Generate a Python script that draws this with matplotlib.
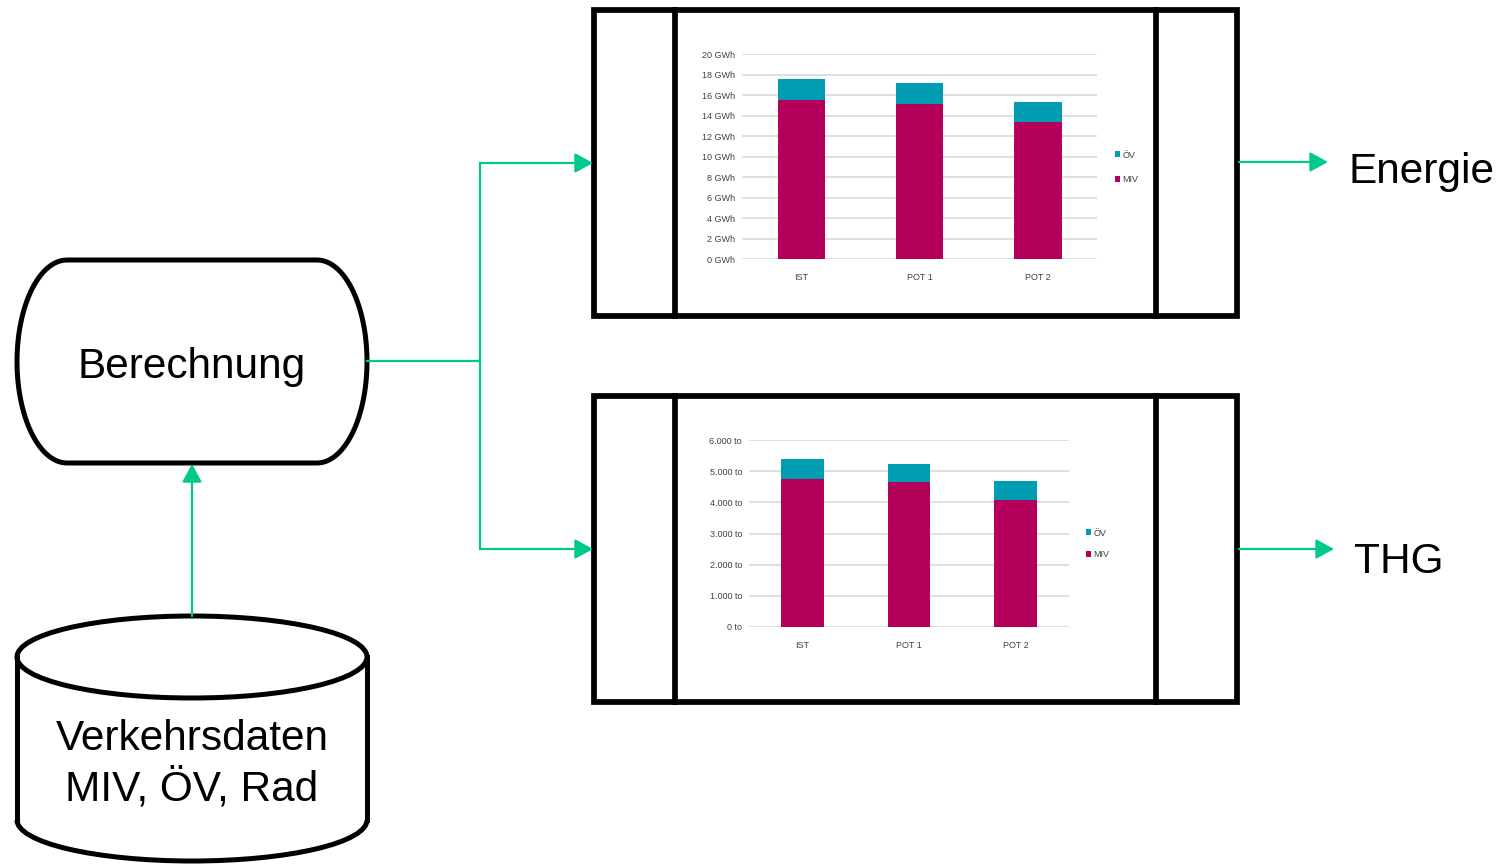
import numpy as np
import matplotlib
matplotlib.use("Agg")
import matplotlib.pyplot as plt
from matplotlib.patches import Ellipse, Arc, PathPatch, Rectangle
from matplotlib.path import Path
from matplotlib import font_manager

# ---------------------------------------------------------
# Daten
# ---------------------------------------------------------
szenarien = ["IST", "POT 1", "POT 2"]

energie_miv = [15.5, 15.1, 13.4]   # GWh
energie_oev = [2.1, 2.05, 1.95]    # GWh
energie_ticks = [0, 2, 4, 6, 8, 10, 12, 14, 16, 18, 20]

thg_miv = [4760, 4640, 4080]       # t
thg_oev = [630, 600, 620]          # t
thg_ticks = [0, 1000, 2000, 3000, 4000, 5000, 6000]

GRUEN = "#00C98D"
MIV_FARBE = "#B5005B"
OEV_FARBE = "#009DB2"
GRID = "#D9D9D9"
LABEL = "#404040"

W, H = 1503, 864
plt.rcParams["font.family"] = ["Liberation Sans", "DejaVu Sans"]

# schmale Schrift für die kleinen Diagrammbeschriftungen, falls vorhanden
vorhanden = {f.name for f in font_manager.fontManager.ttflist}
KLEIN = [n for n in ("Liberation Sans Narrow", "DejaVu Sans Condensed")
         if n in vorhanden] or ["Liberation Sans"]
KLEIN_GR = 7 if KLEIN[0] != "Liberation Sans" else 6.5

fig = plt.figure(figsize=(W / 100, H / 100), dpi=100)

# Zeichenfläche in Pixelkoordinaten (y nach unten)
ax = fig.add_axes([0, 0, 1, 1])
ax.set_xlim(0, W)
ax.set_ylim(H, 0)
ax.axis("off")

LW = 3.6
FS = 30.5


def pfeil(x0, y0, x1, y1):
    ax.annotate("", xy=(x1, y1), xytext=(x0, y0),
                arrowprops=dict(arrowstyle="-|>,head_length=1.1,head_width=0.6",
                                color=GRUEN, lw=1.6, shrinkA=0, shrinkB=0))


# --- Berechnung (abgerundete Form) ---
x0, x1, y0, y1 = 17, 367, 260, 463
rx, ry = 50, (y1 - y0) / 2
t = np.linspace(0, np.pi / 2, 30)
pts = []
pts += [(x0 + rx, y0), (x1 - rx, y0)]
cy = y0 + ry
pts += [(x1 - rx + rx * np.sin(a), cy - ry * np.cos(a)) for a in t]
pts += [(x1 - rx + rx * np.cos(a), cy + ry * np.sin(a)) for a in t]
pts += [(x0 + rx, y1)]
pts += [(x0 + rx - rx * np.sin(a), cy + ry * np.cos(a)) for a in t]
pts += [(x0 + rx - rx * np.cos(a), cy - ry * np.sin(a)) for a in t]
pts.append(pts[0])
ax.add_patch(PathPatch(Path(pts), facecolor="white", edgecolor="black",
                       lw=LW, joinstyle="round"))
ax.text(192, 378, "Berechnung", ha="center", va="baseline", fontsize=FS)

# --- Datenbank-Zylinder ---
cx, rxz = 192, 175
ytop, ybot, ryz = 657, 820, 41
ax.add_patch(Ellipse((cx, ytop), 2 * rxz, 2 * ryz, facecolor="white",
                     edgecolor="black", lw=LW))
ax.plot([cx - rxz, cx - rxz], [ytop, ybot], color="black", lw=LW)
ax.plot([cx + rxz, cx + rxz], [ytop, ybot], color="black", lw=LW)
ax.add_patch(Arc((cx, ybot), 2 * rxz, 2 * ryz, theta1=0, theta2=180,
                 edgecolor="black", lw=LW))
ax.text(cx, 750, "Verkehrsdaten", ha="center", va="baseline", fontsize=FS)
ax.text(cx, 800, "MIV, ÖV, Rad", ha="center", va="baseline", fontsize=FS)

# --- Verbindungen ---
pfeil(192, ytop - ryz, 192, y1 + 1)
ax.plot([x1, 480, 480], [361, 361, 163], color=GRUEN, lw=1.6)
ax.plot([480, 480], [361, 549], color=GRUEN, lw=1.6)
pfeil(480, 163, 593, 163)
pfeil(480, 549, 593, 549)

# --- Rahmen der beiden Diagramme ---
for top, bottom in [(10, 316), (396, 702)]:
    ax.add_patch(Rectangle((594, top), 1237 - 594, bottom - top, fill=False,
                           edgecolor="black", lw=LW * 1.15, joinstyle="miter"))
    for xv in (674.5, 1156):
        ax.plot([xv, xv], [top, bottom], color="black", lw=LW * 1.15)

# --- Ausgänge ---
pfeil(1239, 162, 1328, 162)
ax.text(1348, 183, "Energie", ha="left", va="baseline", fontsize=FS)
pfeil(1239, 549, 1334, 549)
ax.text(1354, 573, "THG", ha="left", va="baseline", fontsize=FS)


# ---------------------------------------------------------
# Gestapelte Balkendiagramme
# ---------------------------------------------------------
def balken(px0, px1, py_top, py_bot, miv, oev, ticks, fmt, leg_xy, abstand):
    a = fig.add_axes([px0 / W, 1 - py_bot / H, (px1 - px0) / W,
                      (py_bot - py_top) / H])
    pos = np.arange(len(szenarien))
    b1 = a.bar(pos, miv, width=0.4, color=MIV_FARBE, label="MIV", zorder=3)
    b2 = a.bar(pos, oev, width=0.4, bottom=miv, color=OEV_FARBE, label="ÖV",
               zorder=3)
    a.set_xlim(-0.5, len(szenarien) - 0.5)
    a.set_ylim(ticks[0], ticks[-1])
    a.set_yticks(ticks)
    a.set_yticklabels([fmt(v) for v in ticks], fontsize=KLEIN_GR, color=LABEL,
                      family=KLEIN)
    a.set_xticks(pos)
    a.set_xticklabels(szenarien, fontsize=KLEIN_GR, color=LABEL, family=KLEIN)
    a.tick_params(axis="y", length=0, pad=5)
    a.tick_params(axis="x", length=0, pad=10)
    a.grid(axis="y", color=GRID, lw=1.2, zorder=0)
    a.set_axisbelow(True)
    for s in a.spines.values():
        s.set_visible(False)
    a.legend([b2, b1], ["ÖV", "MIV"], loc="upper left",
             bbox_to_anchor=leg_xy, bbox_transform=ax.transData,
             frameon=False, prop={"family": KLEIN, "size": KLEIN_GR},
             handlelength=0.6, handleheight=0.6, handletextpad=0.3,
             labelspacing=abstand, borderpad=0, labelcolor=LABEL)
    return a


balken(742, 1097, 54, 259, energie_miv, energie_oev, energie_ticks,
       lambda v: f"{v} GWh", (1110, 146), 1.75)
balken(749, 1069, 440, 627, thg_miv, thg_oev, thg_ticks,
       lambda v: f"{v:,}".replace(",", ".") + " to", (1081, 524), 1.4)

fig.savefig("out.png", dpi=100)
